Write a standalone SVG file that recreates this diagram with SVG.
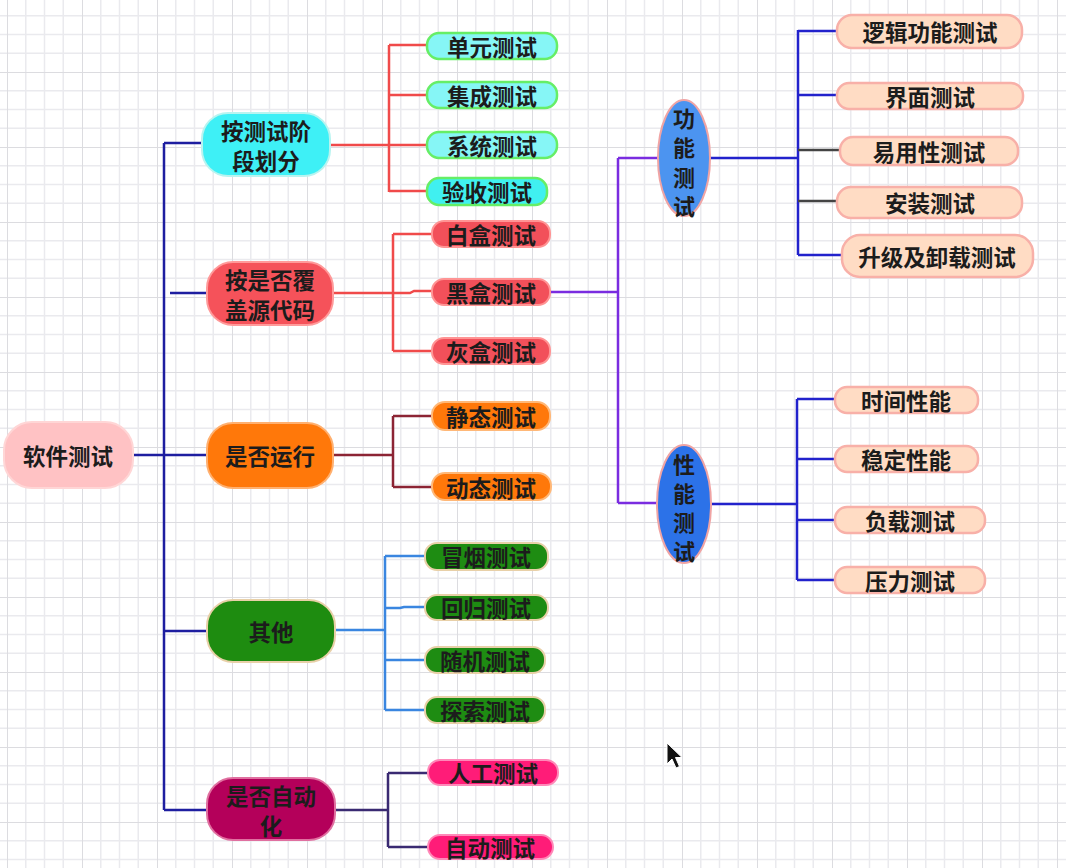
<svg xmlns="http://www.w3.org/2000/svg" width="1080" height="868" viewBox="0 0 1080 868">
<defs>
<pattern id="grid" patternUnits="userSpaceOnUse" x="7" y="-3" width="75" height="75">
<path d="M18.75 0V75M37.5 0V75M56.25 0V75M0 18.75H75M0 37.5H75M0 56.25H75" stroke="#EAEAEE" stroke-width="1.5" fill="none"/>
<path d="M0 0V75M0 0H75" stroke="#DCDCE0" stroke-width="2" fill="none"/>
</pattern>
<style>
text{font-family:"Noto Sans CJK SC","Noto Sans",sans-serif;font-size:22.5px;font-weight:600;fill:#1c1c1c;text-anchor:middle;dominant-baseline:central}
.v{font-size:22px}
.c{fill:none;stroke-width:2.5}
.spine{stroke:#1E1EA0}
.red{stroke:#F04A4A}
.maroon{stroke:#8C2434}
.lblue{stroke:#3A86E0}
.dpurp{stroke:#3A2A72}
.purp{stroke:#7A2CE0}
.blue{stroke:#2222CC}
.gray{stroke:#444444}
.cy1{fill:#3EF0F6;stroke:#B8F4F0;stroke-width:2}
.rd1{fill:#F5525A;stroke:#FF9A9A;stroke-width:2}
.or1{fill:#FF780A;stroke:#FFB070;stroke-width:2}
.gr1{fill:#1E8C10;stroke:#E8D0A8;stroke-width:2}
.cr1{fill:#B4005A;stroke:#E070A0;stroke-width:2}
.cy2{fill:#86F6F6;stroke:#66EE66;stroke-width:2.5}
.cy2b{fill:#40F0F0;stroke:#66EE66;stroke-width:2.5}
.rd2{fill:#F2505A;stroke:#FF9494;stroke-width:2}
.or2{fill:#FF780A;stroke:#FFB878;stroke-width:2}
.gr2{fill:#1E8C12;stroke:#E8D0A8;stroke-width:2}
.pk2{fill:#FF1C78;stroke:#FF88B8;stroke-width:2}
.pc2{fill:#FFDCC4;stroke:#F8B0A8;stroke-width:2.5}
</style>
</defs>
<rect x="0" y="0" width="1080" height="868" fill="#FFFFFF"/>
<rect x="0" y="0" width="1066" height="868" fill="url(#grid)"/>

<g id="connectors">
<path class="c spine" d="M133 455H164M164 143V810M164 143H202M170 293H207M164 455H207M164 631H207M164 810H207"/>
<path class="c red" d="M330 145H389M389 45V192M389 45H427M389 95H427M389 145H427M389 191H427"/>
<path class="c red" d="M333 293H410L414 291H432M393 234V351M393 234H432M393 351H432"/>
<path class="c purp" d="M550 292H618M618 158V503M618 158H658M618 503H657"/>
<path class="c blue" d="M710 158H798M798 30V255M798 31H837M798 95H837M798 255H842"/>
<path class="c gray" d="M798 150H840M798 201H837"/>
<path class="c blue" d="M712 504H797M797 399V580M797 399H835M797 459H835M797 520H835M797 580H835"/>
<path class="c maroon" d="M333 455H393M393 416V487M393 416H432M393 487H432"/>
<path class="c lblue" d="M335 630H385M385 556V710M385 556H425M385 608H400L404 607H425M385 660H425M385 710H425"/>
<path class="c dpurp" d="M335 810H388M388 773V847M388 773H428M388 847H428"/>
</g>

<g id="root"><rect x="4" y="422" width="129" height="66" rx="28" fill="#FFC2C4" stroke="#FFD6D6" stroke-width="2"/><text x="68" y="455">软件测试</text></g>

<g id="n-stage"><rect class="cy1" x="202" y="113" width="128" height="63" rx="26"/><text x="266" y="130">按测试阶</text><text x="266" y="160">段划分</text></g>
<g id="n-cover"><rect class="rd1" x="207" y="262" width="126" height="63" rx="26"/><text x="270" y="279">按是否覆</text><text x="270" y="309">盖源代码</text></g>
<g id="n-run"><rect class="or1" x="207" y="423" width="126" height="65" rx="26"/><text x="270" y="455">是否运行</text></g>
<g id="n-other"><rect class="gr1" x="207" y="600" width="128" height="62" rx="26"/><text x="271" y="631">其他</text></g>
<g id="n-auto"><rect class="cr1" x="207" y="778" width="128" height="62" rx="26"/><text x="271" y="795">是否自动</text><text x="271" y="825">化</text></g>

<g id="unit"><rect class="cy2" x="427" y="33" width="130" height="26" rx="12"/><text x="492" y="46">单元测试</text></g>
<g id="integ"><rect class="cy2" x="427" y="82" width="130" height="26" rx="12"/><text x="492" y="95">集成测试</text></g>
<g id="system"><rect class="cy2" x="427" y="132" width="130" height="26" rx="12"/><text x="492" y="145">系统测试</text></g>
<g id="accept"><rect class="cy2b" x="427" y="178" width="120" height="27" rx="12"/><text x="487" y="191">验收测试</text></g>

<g id="white"><rect class="rd2" x="432" y="221" width="118" height="26" rx="12"/><text x="491" y="234">白盒测试</text></g>
<g id="black"><rect class="rd2" x="432" y="279" width="118" height="26" rx="12"/><text x="491" y="292">黑盒测试</text></g>
<g id="gray"><rect class="rd2" x="432" y="338" width="118" height="26" rx="12"/><text x="491" y="351">灰盒测试</text></g>

<g id="func"><ellipse cx="684" cy="158" rx="26" ry="58" fill="#4C94F0" stroke="#F0A4A4" stroke-width="2"/><text class="v" x="684" y="117">功</text><text class="v" x="684" y="146">能</text><text class="v" x="684" y="176">测</text><text class="v" x="684" y="205">试</text></g>
<g id="perf"><ellipse cx="684" cy="504" rx="27" ry="59" fill="#2C72E8" stroke="#F0A4A4" stroke-width="2"/><text class="v" x="684" y="463">性</text><text class="v" x="684" y="492">能</text><text class="v" x="684" y="521">测</text><text class="v" x="684" y="550">试</text></g>

<g id="logic"><rect class="pc2" x="837" y="15" width="185" height="33" rx="15"/><text x="930" y="31">逻辑功能测试</text></g>
<g id="ui"><rect class="pc2" x="837" y="83" width="186" height="26" rx="12"/><text x="930" y="96">界面测试</text></g>
<g id="usab"><rect class="pc2" x="840" y="137" width="178" height="28" rx="13"/><text x="929" y="151">易用性测试</text></g>
<g id="install"><rect class="pc2" x="837" y="187" width="185" height="31" rx="14"/><text x="930" y="202">安装测试</text></g>
<g id="upgrade"><rect class="pc2" x="842" y="235" width="191" height="42" rx="18"/><text x="937" y="256">升级及卸载测试</text></g>

<g id="time"><rect class="pc2" x="835" y="387" width="143" height="26" rx="12"/><text x="906" y="400">时间性能</text></g>
<g id="stable"><rect class="pc2" x="835" y="446" width="143" height="26" rx="12"/><text x="906" y="459">稳定性能</text></g>
<g id="load"><rect class="pc2" x="835" y="507" width="150" height="26" rx="12"/><text x="910" y="520">负载测试</text></g>
<g id="stress"><rect class="pc2" x="835" y="567" width="150" height="26" rx="12"/><text x="910" y="580">压力测试</text></g>

<g id="static"><rect class="or2" x="432" y="402" width="118" height="28" rx="13"/><text x="491" y="416">静态测试</text></g>
<g id="dynamic"><rect class="or2" x="432" y="473" width="119" height="27" rx="13"/><text x="491" y="487">动态测试</text></g>

<g id="smoke"><rect class="gr2" x="425" y="543" width="123" height="27" rx="12"/><text x="486" y="556">冒烟测试</text></g>
<g id="regress"><rect class="gr2" x="425" y="595" width="123" height="25" rx="12"/><text x="486" y="607">回归测试</text></g>
<g id="random"><rect class="gr2" x="425" y="647" width="120" height="26" rx="12"/><text x="485" y="660">随机测试</text></g>
<g id="explore"><rect class="gr2" x="425" y="697" width="120" height="26" rx="12"/><text x="485" y="710">探索测试</text></g>

<g id="manual"><rect class="pk2" x="428" y="760" width="130" height="25" rx="12"/><text x="493" y="772">人工测试</text></g>
<g id="autotest"><rect class="pk2" x="428" y="835" width="125" height="24" rx="12"/><text x="490" y="847">自动测试</text></g>

<path d="M667 743V764L672 759L676 768L679.5 766.5L675.5 757.5H682Z" fill="#111" stroke="#fff" stroke-width="1"/>
</svg>
